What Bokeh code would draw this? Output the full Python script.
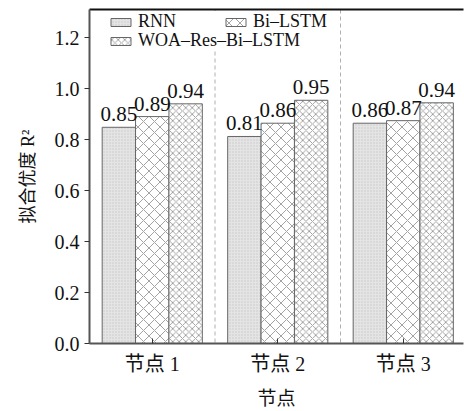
from bokeh.plotting import figure
from bokeh.models import (ColumnDataSource, FixedTicker, LinearAxis, Span, Legend,
                          LegendItem, LabelSet, Range1d)
from bokeh.transform import dodge
from bokeh.embed import file_html
from bokeh.resources import INLINE

# ---- data ----
nodes = [1, 2, 3]
node_labels = ["节点 1", "节点 2", "节点 3"]
rnn = [0.848, 0.812, 0.864]
bilstm = [0.890, 0.864, 0.874]
woa = [0.940, 0.954, 0.944]
series_names = ["RNN", "Bi–LSTM", "WOA–Res–Bi–LSTM"]
y_ticks = [0.0, 0.2, 0.4, 0.6, 0.8, 1.0, 1.2]

FONT = "'Liberation Serif', 'Noto Sans CJK SC'"

src = ColumnDataSource(dict(
    x=nodes, rnn=rnn, bilstm=bilstm, woa=woa,
    rnn_t=[f"{v:.2f}" for v in rnn],
    bilstm_t=[f"{v:.2f}" for v in bilstm],
    woa_t=[f"{v:.2f}" for v in woa],
))

p = figure(width=464, height=411, output_backend="svg", toolbar_location=None,
           x_range=Range1d(0.5, 3.48), y_range=Range1d(0, 1.31),
           min_border_left=89, min_border_right=1, min_border_top=9, min_border_bottom=68)
p.outline_line_color = None
p.xgrid.grid_line_color = None
p.ygrid.grid_line_color = None

W = 0.266
bar_kw = dict(width=W, line_color="#666666", line_width=1)
r1 = p.vbar(x=dodge("x", -W, range=p.x_range), top="rnn", source=src,
            fill_color="#e4e4e4", hatch_pattern="dot", hatch_color="#c8c8c8",
            hatch_scale=3, hatch_weight=1, **bar_kw)
r2 = p.vbar(x=dodge("x", 0, range=p.x_range), top="bilstm", source=src,
            fill_color="white", hatch_pattern="diagonal_cross", hatch_color="#8a8a8a",
            hatch_scale=11, hatch_weight=0.8, **bar_kw)
r3 = p.vbar(x=dodge("x", W, range=p.x_range), top="woa", source=src,
            fill_color="white", hatch_pattern="diagonal_cross", hatch_color="#8a8a8a",
            hatch_scale=6.5, hatch_weight=0.8, **bar_kw)

for xo, col in [(-W, "rnn"), (0, "bilstm"), (W, "woa")]:
    ls = LabelSet(x=dodge("x", xo, range=p.x_range), y=col, text=col + "_t", source=src,
                  text_align="center", text_baseline="alphabetic", y_offset=6,
                  text_font=FONT, text_font_size="21px", text_color="#111111")
    p.add_layout(ls)

for loc in [1.5, 2.5]:
    p.add_layout(Span(location=loc, dimension="height", line_color="#b0b0b0",
                      line_dash="4 3", line_width=1, level="underlay"))

# axes
xa = p.xaxis[0]
xa.ticker = FixedTicker(ticks=nodes)
xa.major_label_overrides = {n: l for n, l in zip(nodes, node_labels)}
xa.minor_tick_line_color = None
xa.major_tick_in = 5
xa.major_tick_out = 0
xa.axis_line_color = "#555555"
xa.axis_line_width = 2
xa.major_tick_line_color = "#333333"
xa.major_label_text_font = FONT
xa.major_label_text_font_size = "20px"
xa.major_label_text_color = "#111111"
xa.major_label_standoff = 9
xa.axis_label = "节点"
xa.axis_label_text_font = FONT
xa.axis_label_text_font_size = "19px"
xa.axis_label_text_font_style = "normal"
xa.axis_label_text_color = "#111111"
xa.axis_label_standoff = 10

ya = p.yaxis[0]
ya.ticker = FixedTicker(ticks=y_ticks)
ya.major_label_overrides = {t: f"{t:.1f}" for t in y_ticks}
ya.minor_tick_line_color = None
ya.major_tick_in = 0
ya.major_tick_out = 5
ya.axis_line_color = "#555555"
ya.axis_line_width = 2
ya.major_tick_line_color = "#333333"
ya.major_label_text_font = FONT
ya.major_label_text_font_size = "20px"
ya.major_label_text_color = "#111111"
ya.major_label_standoff = 5
ya.axis_label = "拟合优度 R²"
ya.axis_label_text_font = FONT
ya.axis_label_text_font_size = "18px"
ya.axis_label_text_font_style = "normal"
ya.axis_label_text_color = "#111111"
ya.axis_label_standoff = 14

top_axis = LinearAxis(ticker=FixedTicker(ticks=[]), major_label_text_font_size="0px",
                      axis_line_color="#111111", axis_line_width=2,
                      major_tick_line_color=None, minor_tick_line_color=None)
p.add_layout(top_axis, "above")

leg_kw = dict(orientation="horizontal", border_line_color=None,
              background_fill_color="white", background_fill_alpha=1.0,
              glyph_width=25, glyph_height=10, label_standoff=5,
              label_text_font=FONT, label_text_font_size="18px",
              label_text_color="#111111", margin=0, padding=0, label_height=18)
leg1 = Legend(items=[LegendItem(label=series_names[0], renderers=[r1]),
                     LegendItem(label=series_names[1], renderers=[r2])],
              location=(19, 334 - 23), spacing=47, **leg_kw)
leg2 = Legend(items=[LegendItem(label=series_names[2], renderers=[r3])],
              location=(19, 334 - 42), **leg_kw)
p.add_layout(leg1)
p.add_layout(leg2)

open("out.html", "w").write(file_html(p, INLINE))
